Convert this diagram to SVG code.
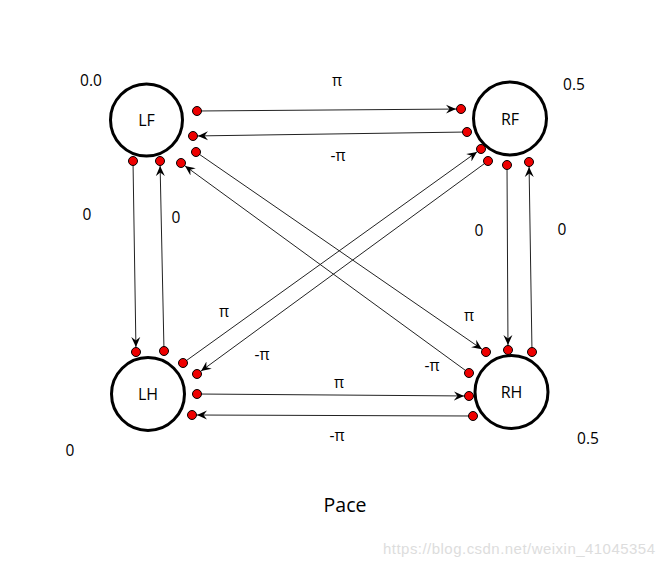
<svg xmlns="http://www.w3.org/2000/svg" width="664" height="565" viewBox="0 0 664 565">
<style>
.node{fill:#fff;stroke:#000;stroke-width:3}
.nl{font-family:"Open Sans","Noto Sans",sans-serif;font-size:16px;fill:#000;text-anchor:middle;dominant-baseline:central}
.lb{font-family:"Open Sans","Noto Sans",sans-serif;font-size:15.5px;fill:#000;text-anchor:middle;dominant-baseline:central}
.c{stroke:#222;stroke-width:1;fill:none;marker-end:url(#ah)}
.d{fill:#e00;stroke:#000;stroke-width:1}
</style>
<defs>
<marker id="ah" markerUnits="userSpaceOnUse" markerWidth="20" markerHeight="12" refX="15" refY="4.5" orient="auto" viewBox="0 0 20 9">
<path d="M0,0 L10,4.5 L0,9 L3.5,4.5 z" fill="#000"/>
</marker>
</defs>
<rect width="664" height="565" fill="#fff"/>
<g id="connectors">
<line class="c" x1="197" y1="111" x2="461" y2="109"/>
<line class="c" x1="467" y1="132" x2="193" y2="136"/>
<line class="c" x1="133" y1="161" x2="136" y2="352"/>
<line class="c" x1="164" y1="351" x2="160" y2="161"/>
<line class="c" x1="507" y1="165" x2="508" y2="350"/>
<line class="c" x1="532" y1="352" x2="529" y2="162"/>
<line class="c" x1="197" y1="394" x2="469" y2="396"/>
<line class="c" x1="473" y1="416" x2="192" y2="415"/>
<line class="c" x1="196" y1="152" x2="486" y2="352"/>
<line class="c" x1="469" y1="373" x2="181" y2="163"/>
<line class="c" x1="183" y1="363" x2="481" y2="149"/>
<line class="c" x1="488" y1="161" x2="197" y2="374"/>
</g>
<g id="LF"><circle class="node" cx="146.5" cy="120" r="36"/><text class="nl" x="146.5" y="120">LF</text></g>
<g id="RF"><circle class="node" cx="510" cy="118.5" r="36.5"/><text class="nl" x="510" y="118.5">RF</text></g>
<g id="LH"><circle class="node" cx="148" cy="394" r="36.5"/><text class="nl" x="148" y="394">LH</text></g>
<g id="RH"><circle class="node" cx="511.5" cy="392" r="36.5"/><text class="nl" x="511.5" y="392">RH</text></g>
<g id="dots">
<circle class="d" cx="197" cy="111" r="4.5"/>
<circle class="d" cx="193" cy="136" r="4.5"/>
<circle class="d" cx="196" cy="152" r="4.5"/>
<circle class="d" cx="133" cy="161" r="4.5"/>
<circle class="d" cx="160" cy="161" r="4.5"/>
<circle class="d" cx="181" cy="163" r="4.5"/>
<circle class="d" cx="461" cy="109" r="4.5"/>
<circle class="d" cx="467" cy="132" r="4.5"/>
<circle class="d" cx="481" cy="149" r="4.5"/>
<circle class="d" cx="488" cy="161" r="4.5"/>
<circle class="d" cx="507" cy="165" r="4.5"/>
<circle class="d" cx="529" cy="162" r="4.5"/>
<circle class="d" cx="136" cy="352" r="4.5"/>
<circle class="d" cx="164" cy="351" r="4.5"/>
<circle class="d" cx="183" cy="363" r="4.5"/>
<circle class="d" cx="197" cy="374" r="4.5"/>
<circle class="d" cx="197" cy="394" r="4.5"/>
<circle class="d" cx="192" cy="415" r="4.5"/>
<circle class="d" cx="486" cy="352" r="4.5"/>
<circle class="d" cx="508" cy="350" r="4.5"/>
<circle class="d" cx="532" cy="352" r="4.5"/>
<circle class="d" cx="469" cy="373" r="4.5"/>
<circle class="d" cx="469" cy="396" r="4.5"/>
<circle class="d" cx="473" cy="416" r="4.5"/>
</g>
<g id="labels">
<text class="lb" x="337" y="80">π</text>
<text class="lb" x="338" y="155">-π</text>
<text class="lb" x="87" y="214">0</text>
<text class="lb" x="176" y="217">0</text>
<text class="lb" x="479" y="230">0</text>
<text class="lb" x="562" y="229">0</text>
<text class="lb" x="339" y="382">π</text>
<text class="lb" x="337" y="435">-π</text>
<text class="lb" x="469" y="315">π</text>
<text class="lb" x="432" y="365">-π</text>
<text class="lb" x="224" y="311">π</text>
<text class="lb" x="262" y="354">-π</text>
<text class="lb" x="91" y="80">0.0</text>
<text class="lb" x="574" y="84">0.5</text>
<text class="lb" x="70" y="450">0</text>
<text class="lb" x="588" y="438">0.5</text>
<text class="lb" x="345" y="504" style="font-size:19.5px">Pace</text>
<text x="383" y="554" style="font-family:'Liberation Sans',Arial,sans-serif;font-size:15px;fill:#ddd" textLength="272">https://blog.csdn.net/weixin_41045354</text>
</g>
</svg>
